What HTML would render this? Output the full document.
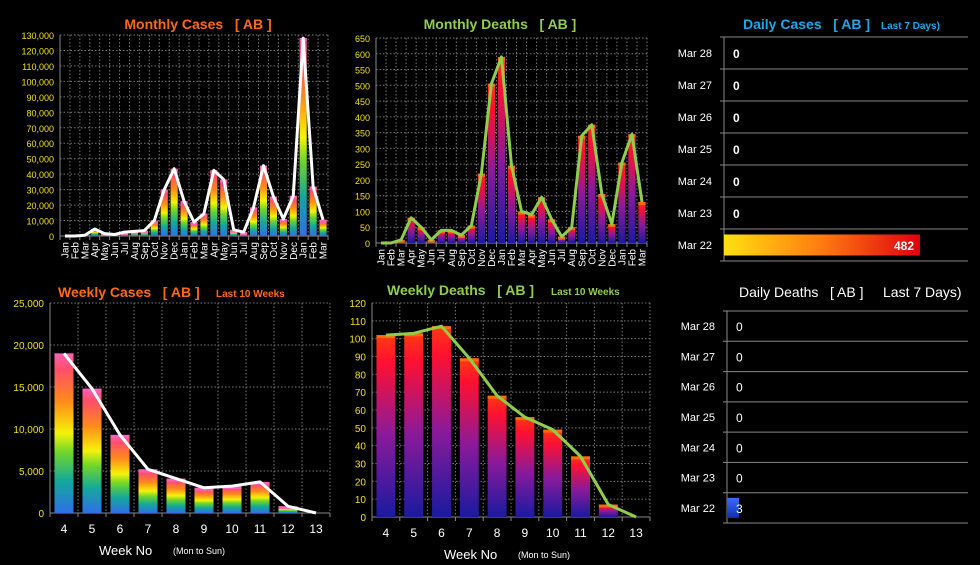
<!DOCTYPE html>
<html><head><meta charset="utf-8">
<style>
html,body{margin:0;padding:0;background:#000;}
svg{display:block;font-family:"Liberation Sans",sans-serif;}
</style></head>
<body>
<svg id="c" width="980" height="565" viewBox="0 0 980 565" xmlns="http://www.w3.org/2000/svg">
<defs>
<linearGradient id="gRain" x1="0" y1="1" x2="0" y2="0">
<stop offset="0" stop-color="#2f6fe8"/><stop offset="0.2" stop-color="#14a89a"/><stop offset="0.38" stop-color="#6fd62a"/><stop offset="0.5" stop-color="#f5f20a"/><stop offset="0.7" stop-color="#ff8a1a"/><stop offset="0.9" stop-color="#ff4f6a"/><stop offset="1" stop-color="#ff5fb0"/>
</linearGradient>
<linearGradient id="gDeath" x1="0" y1="1" x2="0" y2="0">
<stop offset="0" stop-color="#1a1aa0"/><stop offset="0.45" stop-color="#8a1a9a"/><stop offset="0.85" stop-color="#ff1030"/><stop offset="1" stop-color="#ff3a10"/>
</linearGradient>
<linearGradient id="gDaily" x1="0" y1="0" x2="1" y2="0">
<stop offset="0" stop-color="#ffe010"/><stop offset="0.5" stop-color="#ff7a10"/><stop offset="1" stop-color="#e00010"/>
</linearGradient>
<linearGradient id="gBlue" x1="0" y1="0" x2="0" y2="1">
<stop offset="0" stop-color="#3a6aff"/><stop offset="1" stop-color="#1030b0"/>
</linearGradient>
</defs>
<text x="198" y="29" fill="#ff6a10" font-size="14" font-weight="bold" text-anchor="middle">Monthly Cases &#160; [ AB ]</text>
<text x="500" y="29" fill="#8fce4a" font-size="14" font-weight="bold" text-anchor="middle">Monthly Deaths &#160; [ AB ]</text>
<text x="743" y="29" fill="#1aa8e8" font-size="14" font-weight="bold">Daily Cases &#160; [ AB ]</text>
<text x="881" y="29" fill="#1aa8e8" font-size="10" font-weight="bold">Last 7 Days)</text>
<text x="58" y="297" fill="#ff6a10" font-size="14" font-weight="bold">Weekly Cases &#160; [ AB ]</text>
<text x="216" y="297" fill="#ff6a10" font-size="10" font-weight="bold">Last 10 Weeks</text>
<text x="387" y="295" fill="#8fce4a" font-size="14" font-weight="bold">Weekly Deaths &#160; [ AB ]</text>
<text x="551" y="295" fill="#8fce4a" font-size="10" font-weight="bold">Last 10 Weeks</text>
<text x="739" y="297" fill="#fff" font-size="14">Daily Deaths &#160; [ AB ]</text>
<text x="883" y="297" fill="#fff" font-size="14">Last 7 Days)</text>
<text x="99" y="555" fill="#fff" font-size="13">Week No</text>
<text x="173" y="554" fill="#fff" font-size="9">(Mon to Sun)</text>
<text x="444" y="559" fill="#fff" font-size="13">Week No</text>
<text x="518" y="558" fill="#fff" font-size="9">(Mon to Sun)</text>
</svg>
<script>
const monthLabels=["Jan","Feb","Mar","Apr","May","Jun","Jul","Aug","Sep","Oct","Nov","Dec","Jan","Feb","Mar","Apr","May","Jun","Jul","Aug","Sep","Oct","Nov","Dec","Jan","Feb","Mar"];
const monthlyCases=[0,0,500,4500,1500,1000,2500,3000,3500,10000,30000,43500,22500,9000,14500,42500,36500,4000,2500,18500,45500,25500,11000,26000,128000,32000,10500];
const monthlyDeaths=[0,0,10,80,50,10,40,40,25,55,220,505,590,245,100,90,145,75,20,50,340,375,155,60,255,345,130];
const weekLabels=["4","5","6","7","8","9","10","11","12","13"];
const weeklyCases=[19000,14800,9300,5200,4100,3000,3200,3700,800,0];
const weeklyDeaths=[102,103,107,89,68,56,49,34,7,0];
const dayLabels=["Mar 28","Mar 27","Mar 26","Mar 25","Mar 24","Mar 23","Mar 22"];
const dailyCases=[0,0,0,0,0,0,482];
const dailyDeaths=[0,0,0,0,0,0,3];

const svg=document.getElementById('c');
const NS="http://www.w3.org/2000/svg";
function el(tag,attrs,parent){const e=document.createElementNS(NS,tag);for(const k in attrs)e.setAttribute(k,attrs[k]);(parent||svg).appendChild(e);return e;}
function fmt(v){return v.toLocaleString('en-US');}

function vchart(o){
  const g=el('g',{});
  
  
  const n=o.values.length, bw=(o.x1-o.x0)/n;
  const X=i=>o.x0+bw*(i+0.5);
  const Y=v=>o.y0-(v/o.max)*(o.y0-o.y1);
  for(let t=0;t<=o.max;t+=o.step){
    const y=Y(t);
    const gl=el('line',{x1:o.x0,x2:o.x1,y1:y,y2:y,stroke:t===0?'#888':'#777','stroke-width':1,'stroke-dasharray':t===0?'':'1.5,2'},g);
    
    
    const tl=el('text',{x:o.x0-6,y:y+4,fill:'#f0e000','font-size':o.tickFont,'text-anchor':'end'},g);
    
    
    tl.textContent=fmt(t);
  }
  for(let i=0;i<=n;i++){
    const x=o.x0+bw*i;
    const vl=el('line',{x1:x,x2:x,y1:o.y1,y2:o.y0,stroke:'#777','stroke-dasharray':'1.5,2'},g);
    
    
    el('line',{x1:x,x2:x,y1:o.y0,y2:o.y0+4,stroke:'#888'},g);
  }
  el('line',{x1:o.x0,x2:o.x0,y1:o.y1,y2:o.y0,stroke:'#888'},g);
  o.values.forEach((v,i)=>{
    const w=bw*o.barFrac, y=Y(v);
    const r=el('rect',{x:X(i)-w/2,y:y,width:w,height:o.y0-y,fill:o.fill},g);
    
    
    if(v>0){const cap=el('rect',{x:X(i)-w/2,y:y,width:w,height:Math.min(3,o.y0-y),fill:o.cap,opacity:0.9},g);
      
      }
  });
  const pts=o.values.map((v,i)=>X(i)+','+Y(v)).join(' ');
  const pl=el('polyline',{points:pts,fill:'none',stroke:o.line,'stroke-width':o.lw,'stroke-linejoin':'round'},g);
  
  
  o.labels.forEach((l,i)=>{
    let t;
    if(o.rot){t=el('text',{x:0,y:0,fill:'#fff','font-size':10,'text-anchor':'end',transform:`translate(${X(i)+3.5},${o.y0+6}) rotate(-90)`},g);}
    else{t=el('text',{x:X(i),y:o.y0+20,fill:'#fff','font-size':12,'text-anchor':'middle'},g);}
    
    
    t.textContent=l;
  });
}
vchart({name:'monthly-cases-chart',values:monthlyCases,labels:monthLabels,x0:60,x1:328,y0:236,y1:35,max:130000,step:10000,fill:'url(#gRain)',cap:'#ff60c0',line:'#fff',lw:3,barFrac:0.72,tickFont:9,rot:true});
vchart({name:'monthly-deaths-chart',values:monthlyDeaths,labels:monthLabels,x0:376,x1:647,y0:243,y1:38,max:650,step:50,fill:'url(#gDeath)',cap:'#ff7010',line:'#8fce4a',lw:3,barFrac:0.72,tickFont:9,rot:true});
vchart({name:'weekly-cases-chart',values:weeklyCases,labels:weekLabels,x0:50,x1:330,y0:513,y1:303,max:25000,step:5000,fill:'url(#gRain)',cap:'#ff60c0',line:'#fff',lw:3,barFrac:0.68,tickFont:10});
vchart({name:'weekly-deaths-chart',values:weeklyDeaths,labels:weekLabels,x0:372,x1:650,y0:517,y1:303,max:120,step:10,fill:'url(#gDeath)',cap:'#ff7010',line:'#8fce4a',lw:3,barFrac:0.68,tickFont:10});

function hchart(o){
  const g=el('g',{});
  
  
  const rh=(o.y1-o.y0)/o.values.length;
  const X=v=>o.x0+(v/o.max)*(o.x1-o.x0);
  for(let i=0;i<=o.values.length;i++){
    const y=o.y0+rh*i;
    el('line',{x1:o.x0-4,x2:o.x1,y1:y,y2:y,stroke:'#888'},g);
  }
  el('line',{x1:o.x0,x2:o.x0,y1:o.y0,y2:o.y1,stroke:'#888'},g);
  o.values.forEach((v,i)=>{
    const cy=o.y0+rh*(i+0.5);
    const lab=el('text',{x:o.x0-12,y:cy+4,fill:'#fff','font-size':11,'text-anchor':'end'},g);
    
    
    lab.textContent=o.labels[i];
    let tx=o.x0+9, anchor='start';
    if(v>0){
      const r=el('rect',{x:o.x0,y:cy-o.bh/2,width:X(v)-o.x0,height:o.bh,fill:o.fill},g);
      
      
      if(X(v)-o.x0>40){tx=X(v)-6;anchor='end';}
    }
    const vt=el('text',{x:tx,y:cy+5,fill:'#fff','font-size':o.vf,'font-weight':o.vb,'text-anchor':anchor},g);
    
    
    vt.textContent=v;
  });
}
hchart({name:'daily-cases-chart',values:dailyCases,labels:dayLabels,x0:724,x1:968,y0:37,y1:261,max:600,fill:'url(#gDaily)',bh:21,vf:12,vb:'bold'});
hchart({name:'daily-deaths-chart',values:dailyDeaths,labels:dayLabels,x0:727,x1:968,y0:311,y1:523,max:60,fill:'url(#gBlue)',bh:20,vf:12,vb:'normal'});
</script>
</body></html>
